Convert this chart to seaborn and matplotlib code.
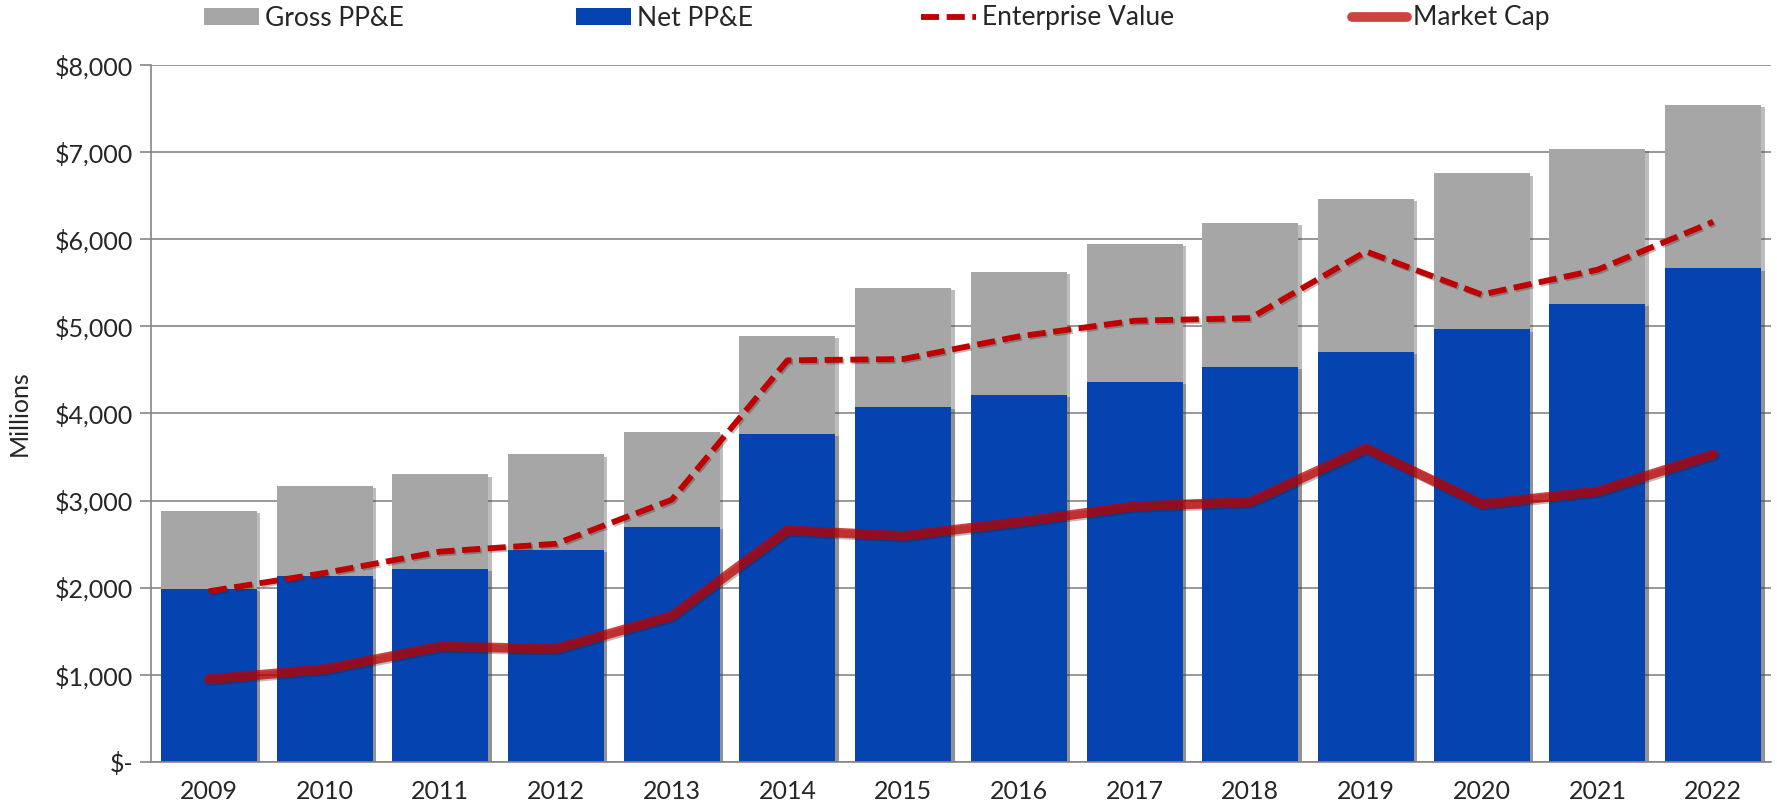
import numpy as np
import matplotlib
matplotlib.use("Agg")
import matplotlib.pyplot as plt
import matplotlib.patheffects as pe
from matplotlib.patches import Patch
from matplotlib.lines import Line2D
from matplotlib.ticker import FuncFormatter
import seaborn as sns

# --------------------------
# Data (millions of $)
# --------------------------
years = ["2009", "2010", "2011", "2012", "2013", "2014", "2015",
         "2016", "2017", "2018", "2019", "2020", "2021", "2022"]
gross_ppe = [2885, 3170, 3300, 3530, 3790, 4885, 5440,
             5625, 5950, 6185, 6460, 6755, 7040, 7540]
net_ppe = [1985, 2130, 2220, 2430, 2700, 3770, 4075,
           4210, 4365, 4530, 4705, 4965, 5260, 5665]
enterprise_value = [1960, 2170, 2415, 2505, 3010, 4610, 4625,
                    4885, 5065, 5095, 5860, 5365, 5650, 6200]
market_cap = [950, 1065, 1325, 1300, 1675, 2660, 2595,
              2755, 2935, 2985, 3600, 2960, 3105, 3530]

gross_color = "#A6A6A6"
net_color = "#0543B0"
red = "#C00000"
grid_gray = "#868686"

sns.set_style("white")
plt.rcParams["font.family"] = ["Lato", "DejaVu Sans"]

fig = plt.figure(figsize=(17.77, 8.05), dpi=100)
ax = fig.add_axes([151 / 1777, 43 / 805, 1620 / 1777, 697 / 805])

bar_shadow = [pe.SimplePatchShadow(offset=(2.5, -1.5), shadow_rgbFace="#444444", alpha=0.35),
              pe.Normal()]
line_shadow = [pe.SimpleLineShadow(offset=(1.2, -1.2), shadow_color="#222222", alpha=0.3),
               pe.Normal()]


def main_line(lines_before):
    # pointplot adds the series line plus empty errorbar lines; take the full one
    new = ax.lines[lines_before:]
    return max(new, key=lambda l: np.isfinite(np.asarray(l.get_ydata(), float)).sum())


# bars: gross behind, net in front
sns.barplot(x=years, y=gross_ppe, color=gross_color, saturation=1, width=0.83, ax=ax)
sns.barplot(x=years, y=net_ppe, color=net_color, saturation=1, width=0.83, ax=ax)
for p in ax.patches:
    p.set_path_effects(bar_shadow)
    p.set_linewidth(0)

# lines
k = len(ax.lines)
sns.pointplot(x=years, y=enterprise_value, color=red, linestyle="--", marker="",
              linewidth=4.2, ax=ax)
ev_line = main_line(k)
ev_line.set_dashes((3.1, 1.3))
ev_line.set_zorder(5)
ev_line.set_path_effects(line_shadow)

k = len(ax.lines)
sns.pointplot(x=years, y=market_cap, color=red, marker="", linewidth=7, ax=ax)
mc_line = main_line(k)
mc_line.set_alpha(0.74)
mc_line.set_zorder(6)
mc_line.set_path_effects(line_shadow)

# axes styling
ax.set_xlim(-0.5, len(years) - 0.5)
ax.set_ylim(0, 8000)
ax.set_yticks(np.arange(0, 8001, 1000))
ax.yaxis.set_major_formatter(FuncFormatter(lambda v, _: "$-" if v == 0 else f"${v:,.0f}"))
ax.yaxis.grid(True, color=grid_gray, linewidth=1.2)
ax.set_axisbelow(True)

ax.set_xticks(np.arange(-0.5, len(years), 1), minor=True)
ax.tick_params(axis="x", which="major", length=0, pad=13, labelsize=18)
ax.tick_params(axis="x", which="minor", length=8, width=1.2, color=grid_gray, direction="out")
ax.tick_params(axis="y", which="major", length=8, width=1.2, color=grid_gray,
               direction="out", labelsize=18, pad=5, left=True)

for side in ["top", "right"]:
    ax.spines[side].set_visible(False)
for side in ["left", "bottom"]:
    ax.spines[side].set_color(grid_gray)
    ax.spines[side].set_linewidth(1.2)

ax.set_xlabel("")
ax.set_ylabel("Millions", fontsize=18, labelpad=17)

# legend across the top, one entry per slot like the Excel original
handles = [
    Patch(facecolor=gross_color, edgecolor="none"),
    Patch(facecolor=net_color, edgecolor="none"),
    Line2D([0], [0], color=red, lw=4.2, linestyle=(0, (3.1, 1.3))),
    Line2D([0], [0], color=red, lw=7, alpha=0.74, solid_capstyle="round"),
]
labels = ["Gross PP&E", "Net PP&E", "Enterprise Value", "Market Cap"]
slots = [204, 576, 921, 1352]
for h, lab, x0 in zip(handles, labels, slots):
    fig.legend([h], [lab], frameon=False, loc="center left",
               bbox_to_anchor=(x0 / 1777, 1 - 18 / 805), fontsize=19,
               handlelength=2.1, handleheight=0.6, handletextpad=0.22,
               borderpad=0, borderaxespad=0)

fig.savefig("out.png", dpi=100)
